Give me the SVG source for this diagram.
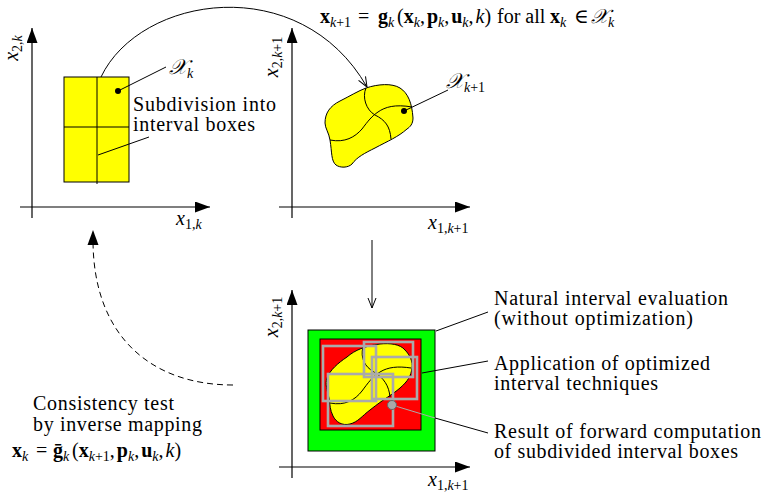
<svg xmlns="http://www.w3.org/2000/svg" width="764" height="494" viewBox="0 0 764 494">
<style>
.t{font-family:"Liberation Serif","DejaVu Serif",serif;font-size:20px;fill:#000}
.m{font-family:"Liberation Serif","DejaVu Serif",serif;font-size:20px;fill:#000}
.b{font-weight:bold}
.i{font-style:italic}
.s{font-size:14px}
.ax{stroke:#000;stroke-width:1.2;fill:none}
.ln{stroke:#000;stroke-width:1;fill:none}
.gb{stroke:#aaaaaa;stroke-width:2.6;fill:none}
</style>
<defs>
<marker id="ah" viewBox="0 0 15 11" refX="15" refY="5.5" markerWidth="15" markerHeight="11" markerUnits="userSpaceOnUse" orient="auto"><path d="M0,0 L15,5.5 L0,11 Z" fill="#000"/></marker>
<marker id="oa" viewBox="0 0 10 10" refX="10" refY="5" markerWidth="10" markerHeight="10" markerUnits="userSpaceOnUse" orient="auto"><path d="M0,1 L10,5 L0,9" fill="none" stroke="#000" stroke-width="1"/></marker>
</defs>

<g id="plot-k">
<line class="ax" x1="32" y1="218" x2="32" y2="28" marker-end="url(#ah)"/>
<line class="ax" x1="20" y1="207" x2="210" y2="207" marker-end="url(#ah)"/>
<text class="m" transform="translate(18,48) rotate(-90)" text-anchor="middle"><tspan class="i">x</tspan><tspan class="s" dy="4">2,<tspan class="i">k</tspan></tspan></text>
<text class="m" x="176" y="225"><tspan class="i">x</tspan><tspan class="s" dy="4">1,<tspan class="i">k</tspan></tspan></text>
<rect x="64" y="77" width="65" height="105" fill="#ffff00" stroke="#000" stroke-width="1"/>
<line class="ln" x1="97" y1="77" x2="97" y2="184"/>
<line class="ln" x1="64" y1="127" x2="129" y2="127"/>
<circle cx="118" cy="91" r="3" fill="#000"/>
<line class="ln" x1="118" y1="91" x2="166" y2="67"/>
<text class="m" x="169" y="74" style="font-size:21px"><tspan class="i">𝒳</tspan><tspan class="s i" dy="4">k</tspan></text>
<line class="ln" x1="98" y1="155" x2="149" y2="137"/>
<text class="t" x="133" y="111" textLength="143">Subdivision into</text>
<text class="t" x="133" y="131" textLength="122">interval boxes</text>
</g>

<g id="plot-k1">
<line class="ax" x1="292" y1="218" x2="292" y2="28" marker-end="url(#ah)"/>
<line class="ax" x1="279" y1="207" x2="470" y2="207" marker-end="url(#ah)"/>
<text class="m" transform="translate(278,57) rotate(-90)" text-anchor="middle"><tspan class="i">x</tspan><tspan class="s" dy="4">2,<tspan class="i">k</tspan>+1</tspan></text>
<text class="m" x="428" y="229"><tspan class="i">x</tspan><tspan class="s" dy="4">1,<tspan class="i">k</tspan>+1</tspan></text>
<path d="M366,88 C378,84 392,83 400,88 C408,93 412,103 413,118 C413,124 410,127 407,129 C398,137 388,141 375,148 C365,153 357,157 352,164 C348,168 340,168 336,165 C331,161 332,152 330,140 C329,133 325,128 325,123 C325,113 330,106 340,101 C350,96 358,91 366,88 Z" fill="#ffff00" stroke="#000" stroke-width="1"/>
<path class="ln" d="M366,88 C362,97 366,110 375,115 C385,120 390,126 391,139"/>
<path class="ln" d="M330,140 C345,143 355,137 362,129 C368,121 372,116 378,112 C385,107 395,104 412,107"/>
<circle cx="404" cy="111" r="3" fill="#000"/>
<line class="ln" x1="404" y1="111" x2="448" y2="90"/>
<text class="m" x="446" y="88" style="font-size:21px"><tspan class="i">𝒳</tspan><tspan class="s" dy="4"><tspan class="i">k</tspan>+1</tspan></text>
</g>

<g id="plot-eval">
<line class="ax" x1="292" y1="478" x2="292" y2="290" marker-end="url(#ah)"/>
<line class="ax" x1="279" y1="467" x2="470" y2="467" marker-end="url(#ah)"/>
<text class="m" transform="translate(278,317) rotate(-90)" text-anchor="middle"><tspan class="i">x</tspan><tspan class="s" dy="4">2,<tspan class="i">k</tspan>+1</tspan></text>
<text class="m" x="428" y="486"><tspan class="i">x</tspan><tspan class="s" dy="4">1,<tspan class="i">k</tspan>+1</tspan></text>
<rect x="308" y="330" width="127" height="121" fill="#00ff00" stroke="#000" stroke-width="1"/>
<rect x="320" y="339" width="101" height="91" fill="#ff0000" stroke="#000" stroke-width="1"/>
<path d="M347,357 C355,350 365,346 380,344 C390,343 400,344 405,350 C410,355 413,362 412,368 C411,376 408,381 400,388 C392,395 385,398 370,410 C362,416 358,422 350,424 C342,426 336,422 333,416 C330,410 330,405 329,398 C327,390 325,384 327,378 C330,370 338,363 347,357 Z" fill="#ffff00" stroke="#000" stroke-width="1"/>
<path class="ln" d="M363,347 C360,358 365,367 374,372 C384,378 389,386 390,397"/>
<path class="ln" d="M330,403 C345,406 355,400 362,391 C368,383 372,377 380,372 C388,367 398,366 411,368"/>
<rect class="gb" x="323" y="346" width="53" height="55"/>
<rect class="gb" x="364" y="342" width="49" height="35"/>
<rect class="gb" x="372" y="357" width="45" height="42"/>
<rect class="gb" x="328" y="374" width="65" height="52"/>
<line x1="392" y1="405" x2="435" y2="418" stroke="#aaaaaa" stroke-width="1"/>
<line class="ln" x1="435" y1="418" x2="488" y2="433"/>
<circle cx="392" cy="405" r="4.5" fill="#aaaaaa" stroke="#666" stroke-width="1"/>
<line class="ln" x1="436" y1="331" x2="488" y2="312"/>
<line class="ln" x1="422" y1="373" x2="488" y2="361"/>
<text class="t" x="494" y="305" textLength="234">Natural interval evaluation</text>
<text class="t" x="494" y="325" textLength="199">(without optimization)</text>
<text class="t" x="494" y="370" textLength="216">Application of optimized</text>
<text class="t" x="494" y="390" textLength="164">interval techniques</text>
<text class="t" x="494" y="438" textLength="267">Result of forward computation</text>
<text class="t" x="494" y="458" textLength="244">of subdivided interval boxes</text>
</g>

<g id="consistency">
<text class="t" x="33" y="410" textLength="141">Consistency test</text>
<text class="t" x="33" y="431" textLength="169">by inverse mapping</text>
<text class="m" y="457"><tspan x="12" class="b">x</tspan><tspan class="s i" dy="4">k</tspan><tspan x="36" dy="-4">=</tspan><tspan x="53" class="b">ḡ</tspan><tspan class="s i" dy="4">k</tspan><tspan x="72" dy="-4">(</tspan><tspan class="b">x</tspan><tspan class="s" dy="4"><tspan class="i">k</tspan>+1</tspan><tspan dy="-4">,</tspan><tspan dx="2" class="b">p</tspan><tspan class="s i" dy="4">k</tspan><tspan dy="-4">,</tspan><tspan dx="2" class="b">u</tspan><tspan class="s i" dy="4">k</tspan><tspan dy="-4">,</tspan><tspan dx="2" class="i">k</tspan><tspan>)</tspan></text>
</g>

<g id="formula">
<text class="m" y="23"><tspan x="320" class="b">x</tspan><tspan class="s" dy="4"><tspan class="i">k</tspan>+1</tspan><tspan x="358" dy="-4">=</tspan><tspan x="378" class="b">g</tspan><tspan class="s i" dy="4">k</tspan><tspan x="397" dy="-4">(</tspan><tspan class="b">x</tspan><tspan class="s i" dy="4">k</tspan><tspan dy="-4">,</tspan><tspan dx="2" class="b">p</tspan><tspan class="s i" dy="4">k</tspan><tspan dy="-4">,</tspan><tspan dx="2" class="b">u</tspan><tspan class="s i" dy="4">k</tspan><tspan dy="-4">,</tspan><tspan dx="2" class="i">k</tspan><tspan>)</tspan><tspan x="497">for all</tspan><tspan x="550" class="b">x</tspan><tspan class="s i" dy="4">k</tspan><tspan x="574" dy="-4">∈</tspan><tspan x="591" class="i">𝒳</tspan><tspan class="s i" dy="4">k</tspan></text>
</g>

<g id="connectors">
<path class="ln" d="M101,77 C140,-5 300,-30 367,87" marker-end="url(#oa)"/>
<line class="ln" x1="372" y1="240" x2="372" y2="308" marker-end="url(#oa)"/>
<path class="ln" d="M233,385 C150,385 93,335 93,240" stroke-dasharray="6,4"/>
<path d="M93,230 L98.5,245 L87.5,245 Z" fill="#000"/>
</g>
</svg>
